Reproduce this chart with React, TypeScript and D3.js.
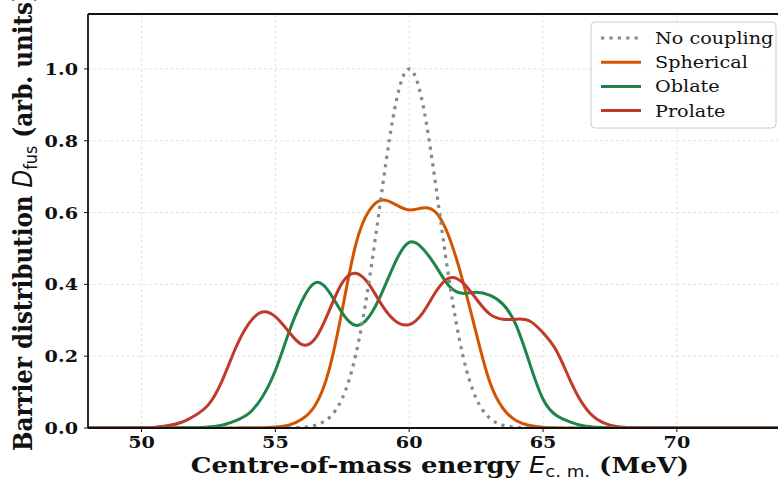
import * as d3 from "d3";

const energies = [47, 50, 50.5, 51, 51.5, 52, 52.5, 53, 53.5, 54, 54.5, 55, 55.5, 56, 56.5, 57, 57.5, 58, 58.5, 59, 59.5, 60, 60.5, 61, 61.5, 62, 62.5, 63, 63.5, 64, 64.5, 65, 65.5, 66, 66.5, 67, 67.5, 68, 68.5, 69, 69.5, 70, 76];

const noCoupling = [0, 0, 0, 0, 0, 0, 0, 0, 0, 0, 0, 0, 0.0002, 0.0017, 0.0076, 0.028, 0.083, 0.203, 0.408, 0.671, 0.905, 1.0, 0.905, 0.671, 0.408, 0.203, 0.083, 0.028, 0.0076, 0.0017, 0.0002, 0, 0, 0, 0, 0, 0, 0, 0, 0, 0, 0, 0];
const spherical = [0, 0, 0, 0, 0, 0, 0, 0, 0.0002, 0.0005, 0.001, 0.003, 0.008, 0.025, 0.065, 0.16, 0.33, 0.51, 0.605, 0.635, 0.622, 0.607, 0.613, 0.6, 0.53, 0.41, 0.265, 0.13, 0.055, 0.02, 0.007, 0.002, 0.0005, 0, 0, 0, 0, 0, 0, 0, 0, 0, 0];
const oblate = [0, 0, 0, 0, 0.0005, 0.001, 0.003, 0.008, 0.02, 0.04, 0.085, 0.16, 0.265, 0.355, 0.405, 0.38, 0.32, 0.286, 0.31, 0.38, 0.465, 0.517, 0.5, 0.45, 0.395, 0.375, 0.378, 0.37, 0.345, 0.285, 0.18, 0.08, 0.035, 0.017, 0.006, 0.002, 0.0005, 0, 0, 0, 0, 0, 0];
const prolate = [0, 0.0005, 0.002, 0.007, 0.016, 0.035, 0.065, 0.13, 0.22, 0.29, 0.323, 0.31, 0.268, 0.232, 0.25, 0.325, 0.405, 0.431, 0.4, 0.34, 0.297, 0.288, 0.32, 0.38, 0.418, 0.405, 0.36, 0.318, 0.303, 0.303, 0.298, 0.265, 0.215, 0.135, 0.065, 0.025, 0.008, 0.002, 0.0005, 0, 0, 0, 0];

const xTicks = [50, 55, 60, 65, 70];
const yTicks = [0, 0.2, 0.4, 0.6, 0.8, 1.0];

const series = [
  { name: "Spherical", values: spherical, color: "#d35400", dash: null },
  { name: "Oblate", values: oblate, color: "#1e8449", dash: null },
  { name: "Prolate", values: prolate, color: "#c0392b", dash: null },
  { name: "No coupling", values: noCoupling, color: "#7f8c8d", dash: "3.2 5.2" },
];
const legendOrder = ["No coupling", "Spherical", "Oblate", "Prolate"];

const W = 778;
const H = 487;
const left = 88;
const right = 792;
const top = 14;
const bottom = 428;
const stretch = 1.13; // text in the picture is a bit wider than tall

const serif = "'DejaVu Serif', serif";
const sans = "'DejaVu Sans', sans-serif";

const at = (x: number, y: number, rot = 0) =>
  `translate(${x},${y}) scale(${stretch},1)` + (rot ? ` rotate(${rot})` : "");

export default function App() {
  const x = d3.scaleLinear().domain([48, 74.3]).range([left, right]);
  const y = d3.scaleLinear().domain([0, 1.153]).range([bottom, top]);

  const line = d3
    .line<number>()
    .x((_, i) => x(energies[i]))
    .y((d) => y(d))
    .curve(d3.curveNatural);

  return (
    <svg
      width={W}
      height={H}
      style={{ position: "absolute", left: 0, top: 0, background: "#fff" }}
    >
      <defs>
        <clipPath id="plot">
          <rect x={left} y={top} width={right - left} height={bottom - top} />
        </clipPath>
      </defs>

      {/* grid */}
      <g stroke="#d9d9d9" strokeWidth={0.8} strokeDasharray="3 2.5">
        {xTicks.map((t) => (
          <line key={"gx" + t} x1={x(t)} x2={x(t)} y1={top} y2={bottom} />
        ))}
        {yTicks.map((t) => (
          <line key={"gy" + t} x1={left} x2={right} y1={y(t)} y2={y(t)} />
        ))}
      </g>

      {/* curves */}
      <g clipPath="url(#plot)" fill="none">
        {series.map((s) => (
          <path
            key={s.name}
            d={line(s.values) || ""}
            stroke={s.color}
            strokeWidth={s.dash ? 3.2 : 3}
            strokeDasharray={s.dash || undefined}
          />
        ))}
      </g>

      {/* spines */}
      <g stroke="#111" strokeWidth={1.8} fill="none">
        <line x1={left} x2={left} y1={top} y2={bottom} />
        <line x1={left} x2={right} y1={bottom} y2={bottom} />
        <line x1={left} x2={right} y1={top} y2={top} />
      </g>

      {/* ticks */}
      <g stroke="#111" strokeWidth={1}>
        {xTicks.map((t) => (
          <line key={"tx" + t} x1={x(t)} x2={x(t)} y1={bottom} y2={bottom + 4} />
        ))}
        {yTicks.map((t) => (
          <line key={"ty" + t} x1={left - 4} x2={left} y1={y(t)} y2={y(t)} />
        ))}
      </g>
      <g fontFamily={serif} fontWeight="bold" fontSize={17} fill="#111">
        {xTicks.map((t) => (
          <text key={"lx" + t} transform={at(x(t), bottom + 20)} textAnchor="middle">
            {t}
          </text>
        ))}
        {yTicks.map((t) => (
          <text key={"ly" + t} transform={at(left - 10, y(t) + 6)} textAnchor="end">
            {t.toFixed(1)}
          </text>
        ))}
      </g>

      {/* axis labels */}
      <text
        transform={at(440, 473)}
        textAnchor="middle"
        fontFamily={serif}
        fontWeight="bold"
        fontSize={23}
        fill="#111"
      >
        Centre-of-mass energy{" "}
        <tspan fontFamily={sans} fontStyle="italic" fontWeight="normal">E</tspan>
        <tspan fontFamily={sans} fontWeight="normal" fontSize={16} dy={4}>c. m.</tspan>
        <tspan dy={-4} dx={8}>(MeV)</tspan>
      </text>
      <text
        transform={`translate(32,${(top + bottom) / 2}) scale(${stretch},1) rotate(-90)`}
        textAnchor="middle"
        fontFamily={serif}
        fontWeight="bold"
        fontSize={23}
        fill="#111"
      >
        Barrier distribution{" "}
        <tspan fontFamily={sans} fontStyle="italic" fontWeight="normal">D</tspan>
        <tspan fontFamily={sans} fontWeight="normal" fontSize={16} dy={4}>fus</tspan>
        <tspan dy={-4}> (arb. units)</tspan>
      </text>

      {/* legend */}
      <g>
        <rect
          x={591}
          y={22}
          width={185}
          height={106}
          rx={4}
          fill="#fff"
          fillOpacity={0.85}
          stroke="#cccccc"
          strokeWidth={1}
        />
        {legendOrder.map((name, i) => {
          const s = series.find((d) => d.name === name)!;
          const cy = 38 + i * 24.2;
          return (
            <g key={name}>
              <line
                x1={601}
                x2={641}
                y1={cy}
                y2={cy}
                stroke={s.color}
                strokeWidth={s.dash ? 3.2 : 3}
                strokeDasharray={s.dash || undefined}
              />
              <text
                transform={at(655, cy + 6)}
                fontFamily={serif}
                fontSize={17}
                fill="#111"
              >
                {name}
              </text>
            </g>
          );
        })}
      </g>
    </svg>
  );
}
